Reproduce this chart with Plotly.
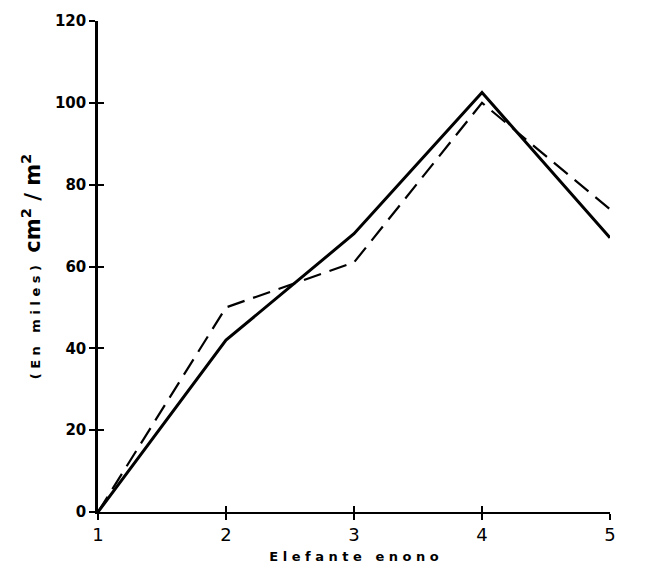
import plotly.graph_objects as go

x_vals = [1, 2, 3, 4, 5]
solid_vals = [0, 42, 68, 102.5, 67]
dashed_vals = [0, 50, 61, 100, 74]
y_ticks = [0, 20, 40, 60, 80, 100, 120]
x_ticks = [1, 2, 3, 4, 5]

fig = go.Figure()
fig.add_trace(go.Scatter(x=x_vals, y=dashed_vals, mode="lines",
                         line=dict(color="black", width=2.2, dash="18px,9px"),
                         showlegend=False))
fig.add_trace(go.Scatter(x=x_vals, y=solid_vals, mode="lines",
                         line=dict(color="black", width=3),
                         showlegend=False))

font = dict(family="DejaVu Sans", color="black")
fig.update_layout(
    width=658, height=579,
    margin=dict(l=98, r=48, t=12, b=67),
    paper_bgcolor="white", plot_bgcolor="white",
    xaxis=dict(range=[1, 5], tickvals=x_ticks, ticktext=[str(v) for v in x_ticks],
               showgrid=False, zeroline=False, showline=True, linecolor="black", linewidth=1.5,
               ticks="outside", ticklen=6, tickwidth=1.5, tickcolor="black",
               tickfont=dict(size=18, **font),
               title=dict(text="<b>E l e f a n t e   e n o n o</b>", font=dict(size=13, **font), standoff=8)),
    yaxis=dict(range=[0, 120], tickvals=y_ticks, ticktext=["<b>%d</b>" % v for v in y_ticks],
               showgrid=False, zeroline=False, showline=True, linecolor="black", linewidth=2.5,
               ticks="outside", ticklen=6, tickwidth=1.5, tickcolor="black",
               tickfont=dict(size=15, **font),
               title=dict(text="<b>( E n   m i l e s )</b>   <b><span style='font-size:21px'>cm<sup>2</sup> / m<sup>2</sup></span></b>",
                          font=dict(size=13, **font), standoff=12)),
    xaxis2=dict(range=[1, 5], overlaying="x", tickvals=x_ticks, showticklabels=False,
                ticks="inside", ticklen=6, tickwidth=1.5, tickcolor="black",
                showgrid=False, zeroline=False, showline=False),
    yaxis2=dict(range=[0, 120], overlaying="y", tickvals=y_ticks, showticklabels=False,
                ticks="inside", ticklen=6, tickwidth=1.5, tickcolor="black",
                showgrid=False, zeroline=False, showline=False),
)
fig.add_trace(go.Scatter(x=[1], y=[0], xaxis="x2", yaxis="y2", mode="markers",
                         marker=dict(opacity=0), showlegend=False, hoverinfo="skip"))
fig.write_html("out.html")
